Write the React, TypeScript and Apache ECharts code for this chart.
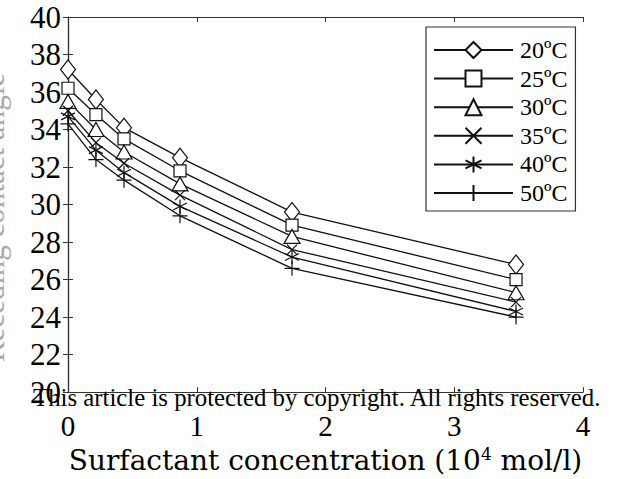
import React, { useEffect, useRef } from "react";
import * as echarts from "echarts";

const concentrations = [0, 0.217, 0.435, 0.87, 1.74, 3.48];
const seriesNames = ["20ºC", "25ºC", "30ºC", "35ºC", "40ºC", "50ºC"];
const values20 = [37.2, 35.6, 34.1, 32.5, 29.6, 26.8];
const values25 = [36.2, 34.8, 33.5, 31.8, 28.9, 26.0];
const values30 = [35.5, 34.0, 32.8, 31.1, 28.3, 25.3];
const values35 = [35.0, 33.3, 32.2, 30.5, 27.6, 24.8];
const values40 = [34.7, 32.9, 31.7, 29.9, 27.2, 24.3];
const values50 = [34.3, 32.4, 31.3, 29.4, 26.6, 24.0];
const allValues = [values20, values25, values30, values35, values40, values50];
const xTicks = [0, 1, 2, 3, 4];
const yTickMin = 20;
const yTickMax = 40;

const symbols: any[] = [
  "diamond",
  "rect",
  "triangle",
  "path://M0,0L10,10M10,0L0,10",
  "path://M5,0L5,10M0.67,2.5L9.33,7.5M0.67,7.5L9.33,2.5",
  "path://M5,0L5,10M0,5L10,5",
];
const symbolSizes: any[] = [[15, 19], 12, [16, 14], 10, 14, 15];

export default function App() {
  const ref = useRef<HTMLDivElement>(null);
  useEffect(() => {
    if (!ref.current) return;
    const chart = echarts.init(ref.current, null, { renderer: "svg" });
    const serif = "Liberation Serif";
    const wideSerif = "DejaVu Serif";
    const frameColor = "#333";
    const series = seriesNames.map((name, i) => ({
      name,
      type: "line",
      data: concentrations.map((c, j) => [c, allValues[i][j]]),
      symbol: symbols[i],
      symbolSize: symbolSizes[i],
      showAllSymbol: true,
      lineStyle: { color: "#111", width: 1.3 },
      itemStyle: { color: "#fff", borderColor: "#111", borderWidth: 1.2 },
      emphasis: { disabled: true },
      z: 2 + i,
    }));
    chart.setOption({
      animation: false,
      backgroundColor: "#fff",
      grid: { left: 68, top: 17, right: 36, bottom: 86, containLabel: false },
      xAxis: [
        {
          type: "value",
          min: xTicks[0],
          max: xTicks[xTicks.length - 1],
          interval: 1,
          name: "Surfactant concentration (10{sup|4} mol/l)",
          nameLocation: "middle",
          nameGap: 50,
          nameTextStyle: {
            fontFamily: wideSerif,
            fontSize: 28,
            fontWeight: 300,
            color: "#000",
            rich: { sup: { fontFamily: wideSerif, fontSize: 17, verticalAlign: "top", padding: [0, 0, 13, 0], color: "#000" } },
          },
          axisLine: { lineStyle: { color: frameColor, width: 1.2 } },
          axisTick: { inside: true, length: 5, lineStyle: { color: frameColor } },
          axisLabel: { fontFamily: serif, fontSize: 29, color: "#000", margin: 19 },
          splitLine: { show: false },
        },
        {
          type: "value",
          position: "top",
          min: xTicks[0],
          max: xTicks[xTicks.length - 1],
          interval: 1,
          axisLine: { show: true, lineStyle: { color: frameColor, width: 1.2 } },
          axisTick: { inside: true, length: 5, lineStyle: { color: frameColor } },
          axisLabel: { show: false },
          splitLine: { show: false },
        },
      ],
      yAxis: [
        {
          type: "value",
          min: yTickMin,
          max: yTickMax,
          interval: 2,
          axisLine: { show: true, lineStyle: { color: frameColor, width: 1.2 } },
          axisTick: { show: true, inside: true, length: 5, lineStyle: { color: frameColor } },
          axisLabel: { fontFamily: serif, fontSize: 31, color: "#000", margin: 7 },
          splitLine: { show: false },
        },
        {
          type: "value",
          position: "right",
          min: yTickMin,
          max: yTickMax,
          interval: 2,
          axisLine: { show: true, lineStyle: { color: frameColor, width: 1.2 } },
          axisTick: { show: true, inside: true, length: 5, lineStyle: { color: frameColor } },
          axisLabel: { show: false },
          splitLine: { show: false },
        },
      ],
      legend: {
        left: 426,
        top: 27,
        orient: "vertical",
        data: seriesNames,
        backgroundColor: "#fff",
        borderColor: "#333",
        borderWidth: 1.2,
        borderRadius: 0,
        padding: [11, 8, 6, 7],
        itemGap: 4.6,
        itemWidth: 79,
        itemHeight: 20,
        selectedMode: false,
        textStyle: { fontFamily: serif, fontSize: 24, color: "#000", padding: [0, 0, 0, 2] },
        z: 10,
      },
      graphic: [
        {
          type: "text",
          left: -22,
          top: 73,
          rotation: Math.PI / 2,
          style: {
            text: "Receding contact angle",
            fontFamily: serif,
            fontSize: 31,
            fill: "#aaa",
          },
          z: 1,
        },
        {
          type: "text",
          left: 33,
          top: 385,
          style: {
            text: "This article is protected by copyright. All rights reserved.",
            fontFamily: serif,
            fontSize: 24.8,
            fill: "#000",
          },
          z: 100,
        },
      ],
      series,
    });
    return () => chart.dispose();
  }, []);
  return <div ref={ref} style={{ position: "fixed", left: 0, top: 0, width: 619, height: 479 }} />;
}
